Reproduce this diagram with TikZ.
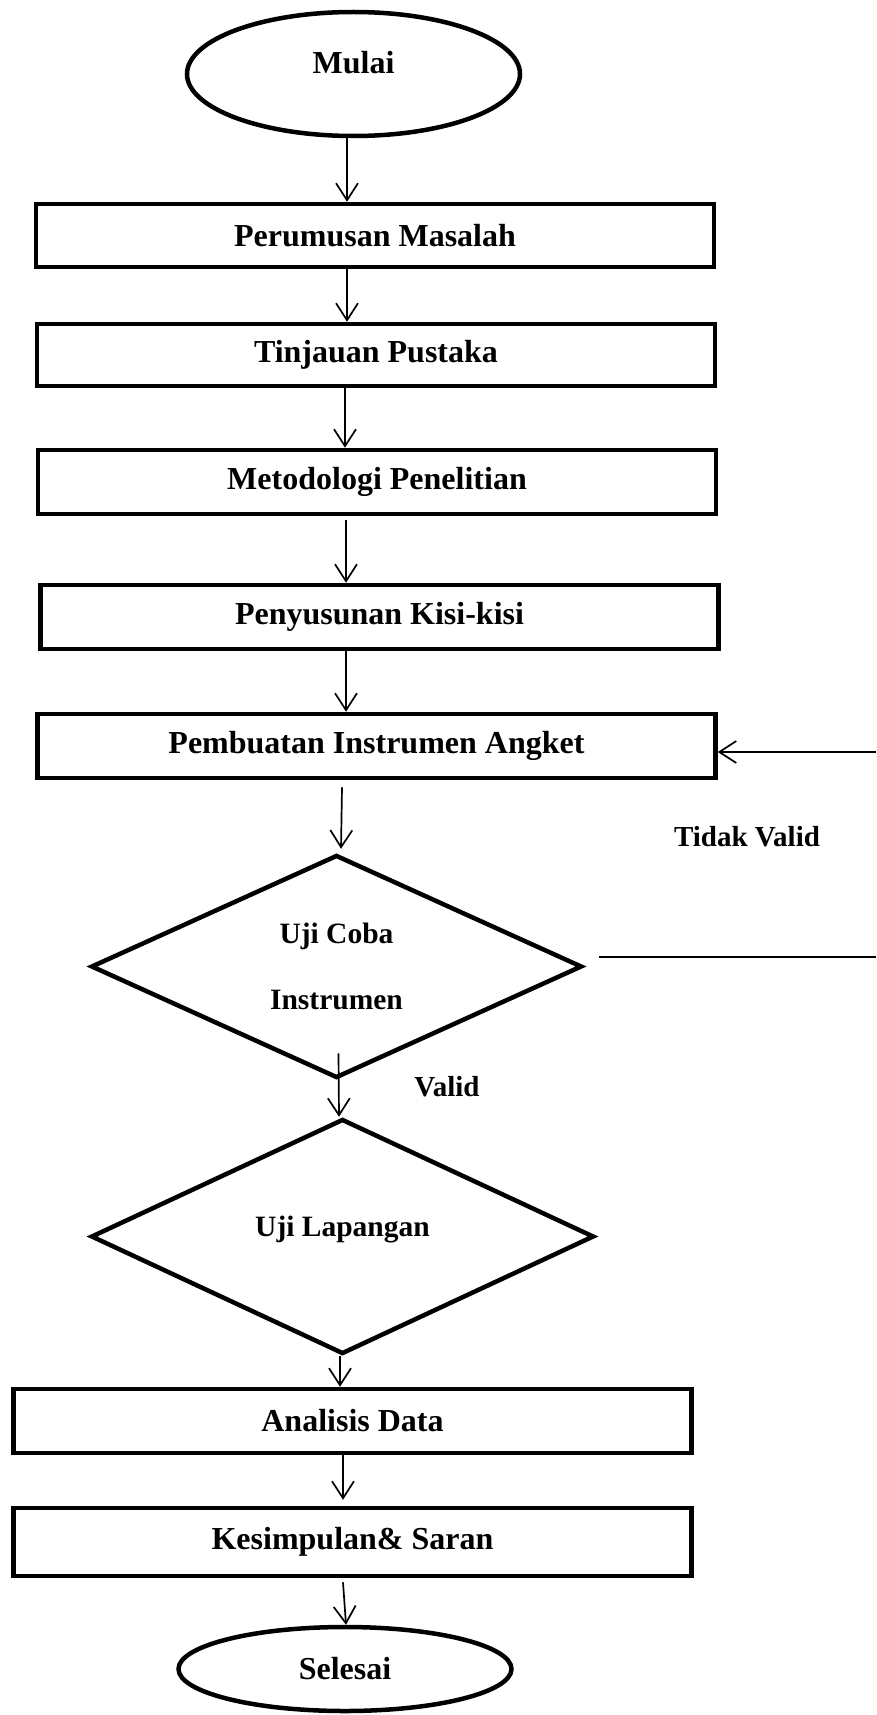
\documentclass[tikz,border=0pt]{standalone}
\usepackage{fontspec}
\setmainfont{Liberation Serif}
\usetikzlibrary{shapes.geometric,arrows.meta}

\begin{document}
\begin{tikzpicture}[x=1pt,y=-1pt,
  proses/.style={draw,line width=4.5pt,rectangle,minimum width=678pt,minimum height=64pt,inner sep=0pt,font=\fontsize{32}{38}\selectfont\bfseries},
  terminal/.style={draw,line width=4.5pt,ellipse,minimum width=333pt,inner sep=0pt,font=\fontsize{32}{38}\selectfont\bfseries},
  keputusan/.style={draw,line width=4.5pt,diamond,shape aspect=2.2,inner sep=0pt,align=center,font=\fontsize{29.5}{66}\selectfont\bfseries},
  ket/.style={font=\fontsize{29}{35}\selectfont\bfseries},
  panah/.style={line width=1.7pt,-{Straight Barb[length=17pt,width=22pt]}}]
   \useasboundingbox (0,0) rectangle (876,1715);

   % alur utama
   \node[terminal,minimum height=124pt] (mulai) at (353.5,74) {\smash{Mulai}};
   \node[proses,minimum height=63pt] (rumusan) at (375,235.5) {Perumusan Masalah};
   \node[proses,minimum height=62pt] (tinjauan) at (376,355) {Tinjauan Pustaka};
   \node[proses] (metode) at (377,482) {Metodologi Penelitian};
   \node[proses] (kisi) at (379.5,617) {Penyusunan Kisi-kisi};
   \node[proses] (angket) at (376.5,746) {Pembuatan Instrumen Angket};
   \node[keputusan,minimum width=491pt,minimum height=223pt] (ujicoba) at (336.5,966.5) {Uji Coba\\Instrumen};
   \node[keputusan,minimum width=503pt,minimum height=235pt] (lapangan) at (342.5,1236.5) {\smash{Uji Lapangan}};
   \node[proses] (analisis) at (352.5,1421) {Analisis Data};
   \node[proses,minimum height=68pt] (simpulan) at (352.5,1542) {Kesimpulan\& Saran};
   \node[terminal,minimum height=84pt] (selesai) at (345,1669) {Selesai};

   \node[ket] (tidakvalid) at (747,837) {Tidak Valid};
   \node[ket] (valid) at (447,1087) {Valid};

   \draw[panah] ([xshift=-6.5pt]mulai.south) -- ([xshift=-28pt]rumusan.north);
   \draw[panah] ([xshift=-28pt]rumusan.south) -- ([xshift=-29pt]tinjauan.north);
   \draw[panah] ([xshift=-31pt]tinjauan.south) -- ([xshift=-32pt]metode.north);
   \draw[panah] ([xshift=-31pt,yshift=-4pt]metode.south) -- ([xshift=-33.5pt]kisi.north);
   \draw[panah] ([xshift=-33.5pt]kisi.south) -- ([xshift=-30.5pt]angket.north);
   \draw[panah] ([xshift=-34.5pt,yshift=-7pt]angket.south) -- ([xshift=4.5pt,yshift=4pt]ujicoba.north);
   \draw[panah] ([xshift=2pt,yshift=27pt]ujicoba.south) -- ([xshift=-3.5pt]lapangan.north);
   \draw[panah] ([xshift=-2.5pt]lapangan.south) -- ([xshift=-12.5pt]analisis.north);
   \draw[panah] ([xshift=-9.5pt]analisis.south) -- ([xshift=-9.5pt,yshift=6pt]simpulan.north);
   \draw[panah] ([xshift=-9.5pt,yshift=-4pt]simpulan.south) -- ([xshift=1pt]selesai.north);

   % balik ke angket (tidak valid)
   \coordinate (kanan1) at (876,957);
   \coordinate (kanan2) at (876,752);
   \draw[line width=1.7pt] ([xshift=15pt,yshift=9.5pt]ujicoba.east) -- (kanan1);
   \draw[panah] (kanan2) -- ([yshift=-6pt]angket.east);
 \end{tikzpicture}
\end{document}
